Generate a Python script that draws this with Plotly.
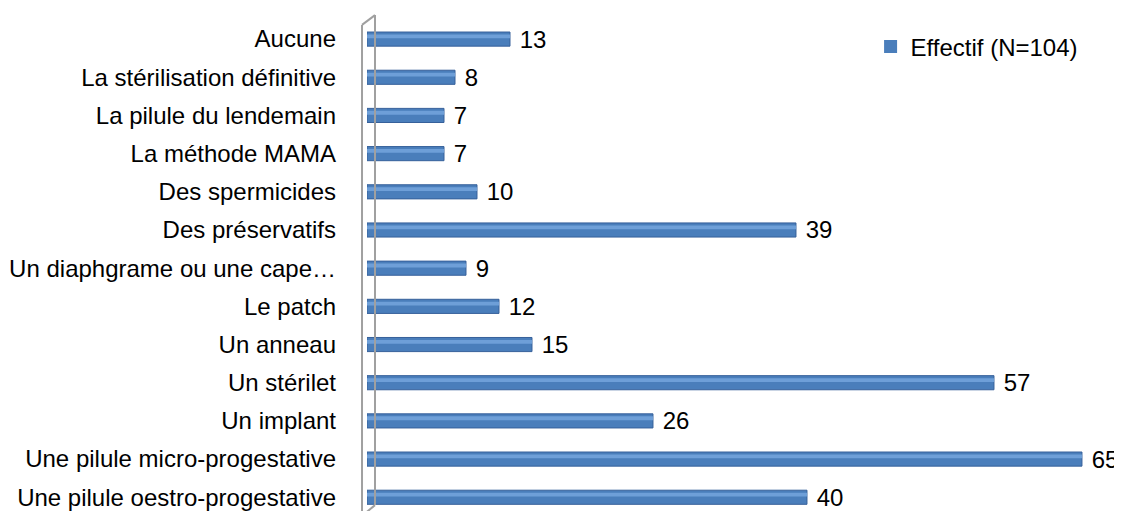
import plotly.graph_objects as go

categories = [
    "Une pilule oestro-progestative",
    "Une pilule micro-progestative",
    "Un implant",
    "Un stérilet",
    "Un anneau",
    "Le patch",
    "Un diaphgrame ou une cape…",
    "Des préservatifs",
    "Des spermicides",
    "La méthode MAMA",
    "La pilule du lendemain",
    "La stérilisation définitive",
    "Aucune",
]
values = [40, 65, 26, 57, 15, 12, 9, 39, 10, 7, 7, 8, 13]
series_name = "Effectif (N=104)"

FONT = "Liberation Sans, Arial, sans-serif"
FS = 24
BAR = "#4A7EBB"

fig = go.Figure()
fig.add_trace(go.Bar(
    y=categories, x=values, orientation="h", name=series_name, showlegend=False,
    marker=dict(color=BAR, line=dict(color="#36609A", width=1)),
    width=0.37,
    text=["\u00a0" + str(v) for v in values], textposition="outside",
    constraintext="none",
    textfont=dict(family=FONT, size=FS, color="#000000"),
    cliponaxis=False,
))
fig.add_trace(go.Bar(
    y=categories, x=values, orientation="h", showlegend=False,
    marker=dict(color="#6E9FD8", line=dict(width=0)),
    width=0.1, offset=0.02, hoverinfo="skip",
))
# legend entry (square swatch)
fig.add_trace(go.Scatter(
    x=[None], y=[None], mode="markers", name=series_name,
    marker=dict(symbol="square", size=13, color=BAR),
))

# 3D wall outline (paper coordinates)
wall = dict(type="line", xref="paper", yref="paper", line=dict(color="#A0A0A0", width=2))
xl, xr = -0.0066, 0.0106
shapes = [
    dict(wall, x0=xl, x1=xl, y0=-0.01, y1=0.99),
    dict(wall, x0=xr, x1=xr, y0=0.012, y1=1.01),
    dict(wall, x0=xl, x1=xr, y0=0.99, y1=1.01),
    dict(wall, x0=xl, x1=xr, y0=-0.01, y1=0.012),
]

fig.update_layout(
    width=1114, height=503,
    margin=dict(l=359, r=0, t=12, b=0),
    paper_bgcolor="white", plot_bgcolor="white",
    barmode="overlay",
    font=dict(family=FONT, size=FS, color="#000000"),
    xaxis=dict(range=[0, 68.64], showgrid=False, showticklabels=False,
               zeroline=False, showline=False, ticks="", automargin=False),
    yaxis=dict(range=[-0.36, 12.5], showgrid=False, showline=False,
               ticks="", ticklabelstandoff=30, automargin=False,
               tickfont=dict(family=FONT, size=FS, color="#000000")),
    legend=dict(x=0.667, y=0.945, xanchor="left", yanchor="middle",
                font=dict(family=FONT, size=FS, color="#000000"),
                bgcolor="rgba(0,0,0,0)", itemwidth=30),
    shapes=shapes,
    showlegend=True,
)

fig.write_html("out.html")
